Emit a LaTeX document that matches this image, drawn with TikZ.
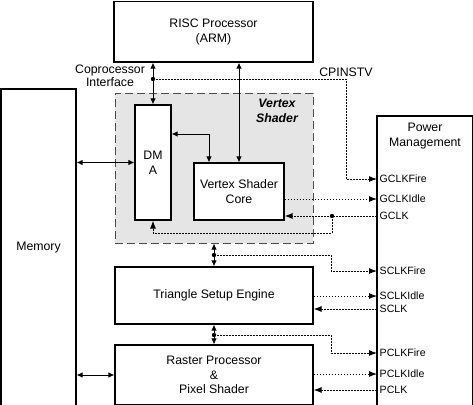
\documentclass[tikz,border=0pt]{standalone}
\usepackage{fontspec}
\setmainfont{Liberation Sans}
\usetikzlibrary{arrows.meta}

\begin{document}
\begin{tikzpicture}
  [
    x=1pt, y=-1pt,
    every node/.style={font=\fontsize{12.3}{14.6}\selectfont},
    blk/.style={draw=black, line width=1.1pt, fill=white,
      inner sep=0pt, align=center},
    region/.style={draw=black!70, line width=1pt,
      dash pattern=on 8pt off 4pt, fill=black!10, inner sep=0pt},
    sigtxt/.style={anchor=west, inner sep=2.5pt,
      font=\fontsize{10.6}{12}\selectfont},
    bus/.style={draw=black, line width=1pt,
      {Latex[length=6pt,width=5.5pt]}-{Latex[length=6pt,width=5.5pt]}},
    sig/.style={draw=black, line width=1pt,
      dash pattern=on 1.6pt off 1.4pt, -{Latex[length=8pt,width=6pt]}}
  ]
  \useasboundingbox (0,0) rectangle (473,404);
  \clip (0,0) rectangle (473,404);

  \node (vs) at (214,168) [region, minimum width=198pt, minimum height=150pt] {};
  \node (vsname) at (277,110.5) [font=\fontsize{12.3}{15}\selectfont\bfseries\itshape, align=center] {Vertex\\Shader};

  \node (risc) at (213.5,31.75) [blk, minimum width=199pt, minimum height=60.5pt] {RISC Processor\\(ARM)};
  \node (dma) at (153,162.5) [blk, minimum width=36pt, minimum height=115pt] {DM\\A};
  \node (core) at (239,191.5) [blk, minimum width=90pt, minimum height=57pt] {Vertex Shader\\Core};
  \node (mem) at (38.5,247.5) [blk, minimum width=75pt, minimum height=317pt] {Memory};
  \node (tse) at (214,295.5) [blk, minimum width=198pt, minimum height=57pt] {Triangle Setup Engine};
  \node (rp) at (214,375) [blk, minimum width=198pt, minimum height=60pt] {Raster Processor\\\&\\Pixel Shader};
  \node (pm) at (424.75,262) [blk, minimum width=95.5pt, minimum height=292pt] {};
  \node (pmname) at (425,136) [align=center] {Power\\Management};
  \node (coproc) at (110,76) [align=center, font=\fontsize{12.3}{13.5}\selectfont] {Coprocessor\\Interface};

  % clock and status signals
  \node (gfire) at (377,179) [sigtxt] {GCLKFire};
  \node (gidle) at (377,199) [sigtxt] {GCLKIdle};
  \node (gclk)  at (377,216) [sigtxt] {GCLK};
  \node (sfire) at (377,271) [sigtxt] {SCLKFire};
  \node (sidle) at (377,296) [sigtxt] {SCLKIdle};
  \node (sclk)  at (377,309) [sigtxt] {SCLK};
  \node (pfire) at (377,353) [sigtxt] {PCLKFire};
  \node (pidle) at (377,374) [sigtxt] {PCLKIdle};
  \node (pclk)  at (377,390) [sigtxt] {PCLK};

  \coordinate (cpdot) at (153,79);
  \coordinate (cpx) at (346,79);
  \coordinate (gdot) at (332,216);
  \coordinate (gbend) at (332,233);
  \coordinate (sdot) at (214,255);
  \coordinate (sx) at (331,255);
  \coordinate (pdot) at (214,335);
  \coordinate (px) at (331,335);
  \node (cpinstv) at (cpx) [anchor=south, inner sep=2pt] {CPINSTV};

  \draw [bus] (dma.north |- risc.south) -- (dma.north);
  \draw [bus] (core.north |- risc.south) -- (core.north);
  \draw [bus] (mem.east |- dma) -- (dma.west);
  \draw [bus] ([yshift=28.5pt]dma.east) -| ([xshift=-30pt]core.north);
  \draw [bus] (vs.south) -- (tse.north);
  \draw [bus] (tse.south) -- (rp.north);
  \draw [bus] (mem.east |- rp) -- (rp.west);

  \draw [sig] (cpdot) -- (cpx) |- (gfire.west);
  \draw [sig] (core.east |- gidle) -- (gidle.west);
  \draw [sig] (gclk.west) -- (core.east |- gclk);
  \draw [sig] (gdot) -- (gbend) -| (dma.south);
  \draw [sig] (sdot) -- (sx) |- (sfire.west);
  \draw [sig] (tse.east |- sidle) -- (sidle.west);
  \draw [sig] (sclk.west) -- (tse.east |- sclk);
  \draw [sig] (pdot) -- (px) |- (pfire.west);
  \draw [sig] (rp.east |- pidle) -- (pidle.west);
  \draw [sig] (pclk.west) -- (rp.east |- pclk);

  \foreach \d in {cpdot,gdot,sdot,pdot}
    \fill (\d) circle (2.2pt);
\end{tikzpicture}
\end{document}
